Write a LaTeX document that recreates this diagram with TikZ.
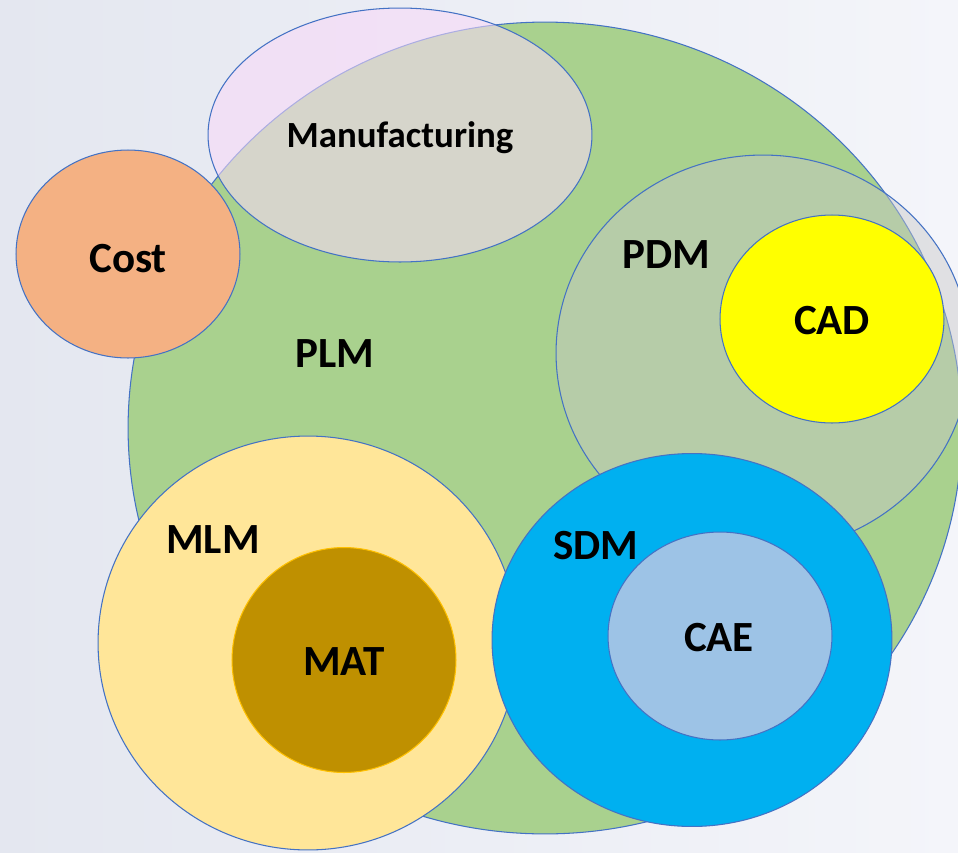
\documentclass[tikz,border=0pt]{standalone}
\usepackage{fontspec}
\setmainfont{Carlito}
\usepackage{tikz}
\usetikzlibrary{positioning,shapes.geometric}
\definecolor{bgleft}{RGB}{228,231,240}
\definecolor{bgright}{RGB}{244,245,250}
\definecolor{rim}{HTML}{4472C4}
\definecolor{plmgreen}{HTML}{A9D18E}
\definecolor{costorange}{HTML}{F4B183}
\definecolor{mfgpink}{RGB}{248,217,248}
\definecolor{pdmgray}{RGB}{200,200,200}
\definecolor{cadyellow}{HTML}{FFFF00}
\definecolor{mlmyellow}{HTML}{FFE699}
\definecolor{matgold}{HTML}{BF9000}
\definecolor{matrim}{HTML}{FFC000}
\definecolor{sdmblue}{HTML}{00B0F0}
\definecolor{caeblue}{HTML}{9DC3E6}
\tikzset{
  blob/.style  = {ellipse, draw=rim, line width=0.6pt, inner sep=0pt},
  see/.style   = {blob, fill opacity=#1, draw opacity=1},
  lbl/.style   = {anchor=base, inner sep=0pt,
                  font=\bfseries\fontsize{24.5}{29}\selectfont},
  small lbl/.style = {lbl, font=\bfseries\fontsize{21}{25}\selectfont}
}

\begin{document}
\begin{tikzpicture}[x=0.02cm, y=-0.02cm]
  \useasboundingbox (0,0) rectangle (958,853);
  \clip (0,0) rectangle (958,853);
  \shade[left color=bgleft, right color=bgright] (0,0) rectangle (958,853);
  % outer area and the loose ones
  \node[blob, fill=plmgreen, minimum width=16.68cm, minimum height=16.24cm] (plm) at (545,428) {};
  \node[blob, fill=costorange, minimum width=4.48cm, minimum height=4.16cm] (cost) at (128,254) {};
  \node[see=0.58, fill=mfgpink, minimum width=7.68cm, minimum height=5.08cm] (mfg) at (400,135) {};
  % data management
  \node[see=0.45, fill=pdmgray, minimum width=8.28cm, minimum height=7.92cm] (pdm) at (763,353) {};
  \node[blob, fill=cadyellow, minimum width=4.48cm, minimum height=4.16cm] (cad) at (832,319) {};
  \node[blob, fill=mlmyellow, minimum width=8.40cm, minimum height=8.28cm] (mlm) at (308,643) {};
  \node[blob, draw=matrim, fill=matgold, minimum width=4.48cm, minimum height=4.50cm] (mat) at (344,660) {};
  \node[blob, fill=sdmblue, minimum width=8.00cm, minimum height=7.46cm] (sdm) at (692,640) {};
  \node[blob, fill=caeblue, minimum width=4.48cm, minimum height=4.16cm] (cae) at (720,636) {};
  % labels
  \node[small lbl] (mfg text) at (400,147) {Manufacturing};
  \node[lbl] (cost text) at (128,272) {Cost};
  \node[lbl] (plm text) at (335,367) {PLM};
  \node[lbl] (pdm text) at (666,268) {PDM};
  \node[lbl] (cad text) at (832,334) {CAD};
  \node[lbl] (mlm text) at (213,553) {MLM};
  \node[lbl] (mat text) at (344,675) {MAT};
  \node[lbl] (sdm text) at (596,559) {SDM};
  \node[lbl] (cae text) at (719,651) {CAE};
\end{tikzpicture}
\end{document}
